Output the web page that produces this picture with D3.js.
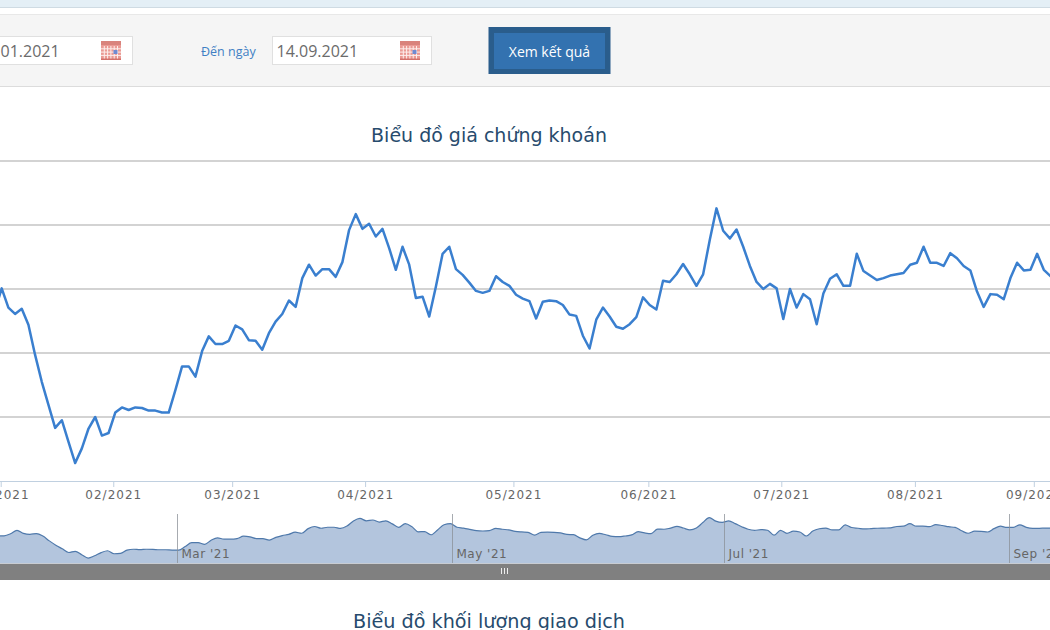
<!DOCTYPE html>
<html lang="vi">
<head>
<meta charset="utf-8">
<title>Biểu đồ giá chứng khoán</title>
<script src="https://cdn.jsdelivr.net/npm/d3@7"></script>
<style>
  html, body { margin: 0; padding: 0; background: #fff; overflow: hidden; }
  svg { display: block; }
</style>
</head>
<body>
<svg id="page" width="1050" height="630"></svg>
<script>
// Closing price per trading session, oldest first.
const closePrices = [
  44.5, 44.7, 46.7,
  50.1, 47.1, 46.1, 46.9, 44.4, 39.7, 35.5, 31.9, 28.3, 29.5,
  26.1, 22.8, 25.1, 28.2, 30.0, 27.1, 27.5, 30.7, 31.5, 31.1,
  31.5, 31.4, 31.0, 31.0, 30.7, 30.7, 34.2, 37.9, 37.9, 36.3,
  40.3, 42.6, 41.4, 41.4, 41.9, 44.3, 43.7, 42.0, 41.9, 40.5,
  43.1, 44.9, 46.1, 48.2, 47.2, 51.7, 53.8, 52.1, 53.1, 53.1,
  51.9, 54.2, 59.2, 61.7, 59.4, 60.2, 58.2, 59.4, 56.4, 53.0,
  56.6, 53.8, 48.6, 48.8, 45.7, 50.4, 55.5, 56.6, 53.1, 52.2,
  51.0, 49.7, 49.4, 49.7, 52.0, 51.1, 50.5, 49.1, 48.5, 48.1,
  45.4, 48.0, 48.2, 48.1, 47.5, 46.0, 45.8, 42.7, 40.7, 45.2,
  47.1, 45.7, 44.1, 43.8, 44.5, 45.6, 48.7, 47.5, 46.8, 51.3,
  51.1, 52.3, 53.9, 52.3, 50.5, 52.3, 57.7, 62.6, 59.1, 57.9,
  59.3, 56.6, 53.6, 51.1, 50.0, 50.8, 50.1, 45.3, 50.0, 47.1,
  49.2, 48.4, 44.5, 49.3, 51.6, 52.3, 50.5, 50.5, 55.5, 52.8,
  52.1, 51.4, 51.7, 52.1, 52.3, 52.5, 53.8, 54.1, 56.6, 54.1,
  54.1, 53.6, 55.6, 54.8, 53.6, 52.9, 49.6, 47.2, 49.2, 49.1,
  48.4, 51.7, 54.1, 52.9, 53.0, 55.5, 53.0, 52.0, 52.0, 52.3, 52.2
];

// Main time axis: where each month begins, in session numbers.
const monthSessions = [2.85, 19.7, 37.5, 57.4, 79.6, 99.8, 119.7, 139.7, 157.5];
const monthLabels = ["01/2021", "02/2021", "03/2021", "04/2021", "05/2021",
                     "06/2021", "07/2021", "08/2021", "09/2021"];

// Overview strip under the chart.
const overviewSessions = [27.7, 70.2, 112.3, 156.3];
const overviewLabels = ["Mar '21", "May '21", "Jul '21", "Sep '21"];

const priceTicks = [20, 30, 40, 50, 60, 70];

const chartTitle = "Biểu đồ giá chứng khoán";
const volumeTitle = "Biểu đồ khối lượng giao dịch";
const fromDate = "14.01.2021";
const toDate = "14.09.2021";

const svg = d3.select("#page");
const sans = "'Open Sans', sans-serif";
const wide = "'DejaVu Sans', sans-serif";

// ---- page header above the chart ----
svg.append("rect").attr("width", 1050).attr("height", 8).attr("fill", "#e4eff6");
svg.append("line").attr("x1", 0).attr("x2", 1050).attr("y1", 7.5).attr("y2", 7.5).attr("stroke", "#cfdbe3");
svg.append("rect").attr("y", 14).attr("width", 1050).attr("height", 73).attr("fill", "#f5f5f5");
svg.append("line").attr("x1", 0).attr("x2", 1050).attr("y1", 14.5).attr("y2", 14.5).attr("stroke", "#e8e8e8");
svg.append("line").attr("x1", 0).attr("x2", 1050).attr("y1", 86.5).attr("y2", 86.5).attr("stroke", "#dcdcdc");

function calendarIcon(x, y) {
  const g = svg.append("g").attr("transform", `translate(${x},${y})`);
  g.append("rect").attr("width", 20).attr("height", 19).attr("fill", "#ea9a94");
  g.append("rect").attr("width", 20).attr("height", 4).attr("fill", "#d9837c");
  g.append("rect").attr("y", 17.5).attr("width", 20).attr("height", 1.5).attr("fill", "#d2706a");
  d3.range(1, 6).forEach(i => {
    g.append("line").attr("x1", i * 3.3).attr("x2", i * 3.3).attr("y1", 5).attr("y2", 17.5)
      .attr("stroke", "#fdeeec");
  });
  d3.range(1, 4).forEach(i => {
    g.append("line").attr("x1", 0).attr("x2", 20).attr("y1", 4.5 + i * 3.3).attr("y2", 4.5 + i * 3.3)
      .attr("stroke", "#fdeeec");
  });
  g.append("rect").attr("x", 12.5).attr("y", 9).attr("width", 4).attr("height", 4).attr("fill", "#6f8ad2");
}

function dateField(x, w, value, textX) {
  svg.append("rect").attr("x", x + 0.5).attr("y", 36.5).attr("width", w).attr("height", 28)
    .attr("fill", "#fff").attr("stroke", "#e0e0e0");
  svg.append("text").attr("x", textX).attr("y", 56.5).attr("fill", "#6b6b6b")
    .attr("font-family", sans).attr("font-size", 16).text(value);
  calendarIcon(x + w - 31, 41);
}
dateField(-60, 192, fromDate, -22);
dateField(272, 159, toDate, 276.5);

svg.append("text").attr("x", 201).attr("y", 56).attr("fill", "#3f7fc4")
  .attr("font-family", sans).attr("font-size", 12.5).text("Đến ngày");

svg.append("rect").attr("x", 488.5).attr("y", 27).attr("width", 122).attr("height", 47).attr("fill", "#2a5d8c");
svg.append("rect").attr("x", 494).attr("y", 33).attr("width", 111).attr("height", 36).attr("fill", "#3372b0");
svg.append("text").attr("x", 549.5).attr("y", 57).attr("text-anchor", "middle").attr("fill", "#fff")
  .attr("font-family", sans).attr("font-size", 14).text("Xem kết quả");

// ---- titles ----
function title(text, y, size) {
  svg.append("text").attr("x", 489).attr("y", y).attr("text-anchor", "middle")
    .attr("fill", "#274b6d").attr("font-family", wide).attr("font-size", size).text(text);
}
title(chartTitle, 142, 19);
title(volumeTitle, 628, 19.2);

// ---- price chart ----
const x = d3.scaleLinear().domain([3, 160]).range([1.7, 1050.5]);
const y = d3.scaleLinear().domain([20, 70]).range([481, 161]);

svg.append("g").selectAll("line").data(priceTicks.slice(1)).join("line")
  .attr("x1", 0).attr("x2", 1050)
  .attr("y1", d => y(d)).attr("y2", d => y(d))
  .attr("stroke", "#c4c4c4").attr("stroke-width", 1.3);

const xAxis = d3.axisBottom(x)
  .tickValues(monthSessions)
  .tickFormat((d, i) => monthLabels[i])
  .tickSize(6).tickPadding(3);

const axisG = svg.append("g").attr("transform", "translate(0,481)").call(xAxis);
axisG.select(".domain").remove();
axisG.append("line").attr("x1", 0).attr("x2", 1050).attr("y1", 0.5).attr("y2", 0.5).attr("stroke", "#c0d0e0");
axisG.selectAll(".tick line").attr("stroke", "#c0d0e0");
axisG.selectAll(".tick text")
  .attr("fill", "#666").attr("font-family", wide).attr("font-size", 12)
  .attr("letter-spacing", "1px");

svg.append("path").datum(closePrices)
  .attr("fill", "none").attr("stroke", "#3a7fcf").attr("stroke-width", 2.5)
  .attr("stroke-linejoin", "round")
  .attr("d", d3.line().x((d, i) => x(i)).y(d => y(d)));

// ---- overview strip ----
const xNav = d3.scaleLinear().domain([3, 160]).range([17, 1032.8]);
const yNav = d3.scaleLinear().domain([18, 70]).range([563, 510]);
const smooth = d3.curveMonotoneX;

svg.append("path").datum(closePrices).attr("fill", "#b3c5dd")
  .attr("d", d3.area().curve(smooth).x((d, i) => xNav(i)).y0(yNav(18)).y1(d => yNav(d)));
svg.append("path").datum(closePrices).attr("fill", "none").attr("stroke", "#4f79ab").attr("stroke-width", 1.2)
  .attr("d", d3.line().curve(smooth).x((d, i) => xNav(i)).y(d => yNav(d)));

const navTick = svg.append("g").selectAll("g").data(overviewSessions).join("g")
  .attr("transform", d => `translate(${Math.round(xNav(d)) + 0.5},0)`);
navTick.append("line").attr("y1", 514).attr("y2", 563).attr("stroke", "#8a8f96").attr("stroke-opacity", 0.75);
navTick.append("text").attr("x", 4).attr("y", 558).attr("fill", "#666")
  .attr("font-family", wide).attr("font-size", 12).attr("letter-spacing", "0.5px")
  .text((d, i) => overviewLabels[i]);

// scrollbar with its grip
svg.append("rect").attr("y", 563).attr("width", 1050).attr("height", 17).attr("fill", "#808080");
svg.append("line").attr("x1", 0).attr("x2", 1050).attr("y1", 563.5).attr("y2", 563.5).attr("stroke", "#c8ccd2");
svg.append("g").selectAll("line").data([-3, 0, 3]).join("line")
  .attr("x1", d => 504.5 + d).attr("x2", d => 504.5 + d)
  .attr("y1", 568).attr("y2", 574).attr("stroke", "#eee");
</script>
</body>
</html>
